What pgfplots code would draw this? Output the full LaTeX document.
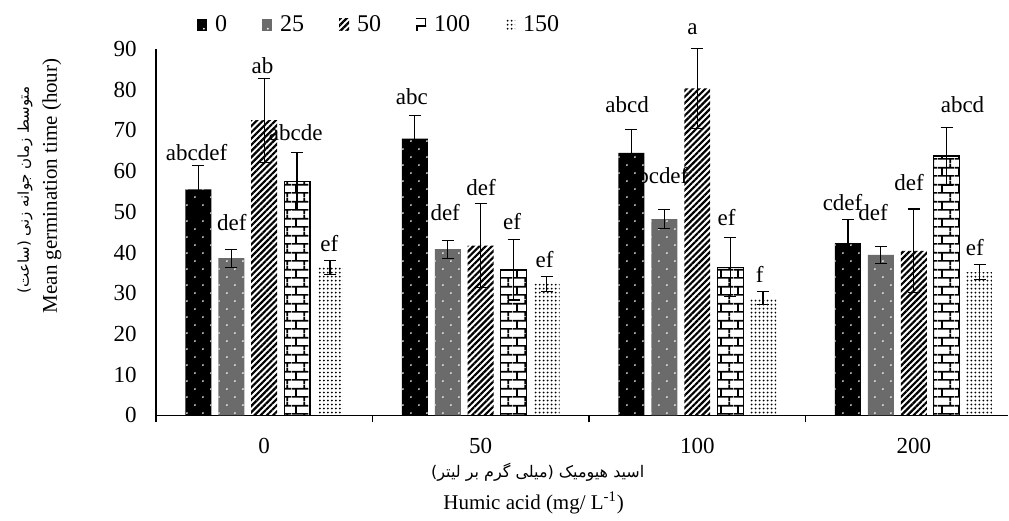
\documentclass[border=0pt]{standalone}
\usepackage{pgfplots}
\pgfplotsset{compat=1.18}
\usepackage{pgfplotstable}
\usetikzlibrary{patterns,patterns.meta}
\usepackage{fontspec}
\setmainfont{Liberation Serif}
\newfontfamily\arabicfont[Script=Arabic]{DejaVu Sans}
\TeXXeTstate=1

\pgfdeclarepattern{
  name=wdots, type=uncolored,
  bottom left={\pgfpoint{0pt}{0pt}},
  top right={\pgfpoint{8pt}{8pt}},
  tile size={\pgfpoint{8pt}{8pt}},
  code={
    \pgfpathcircle{\pgfpoint{2pt}{2pt}}{0.5pt}
    \pgfpathcircle{\pgfpoint{6pt}{6pt}}{0.5pt}
    \pgfusepath{fill}
  }
}
\pgfdeclarepattern{
  name=bricks, type=uncolored,
  bottom left={\pgfpoint{0pt}{0pt}},
  top right={\pgfpoint{8.6pt}{8.6pt}},
  tile size={\pgfpoint{8.6pt}{8.6pt}},
  code={
    \pgfsetlinewidth{0.9pt}
    \pgfpathmoveto{\pgfpoint{0pt}{2.15pt}}\pgfpathlineto{\pgfpoint{8.6pt}{2.15pt}}
    \pgfpathmoveto{\pgfpoint{0pt}{6.45pt}}\pgfpathlineto{\pgfpoint{8.6pt}{6.45pt}}
    \pgfpathmoveto{\pgfpoint{2.15pt}{2.15pt}}\pgfpathlineto{\pgfpoint{2.15pt}{6.45pt}}
    \pgfpathmoveto{\pgfpoint{6.45pt}{0pt}}\pgfpathlineto{\pgfpoint{6.45pt}{2.15pt}}
    \pgfpathmoveto{\pgfpoint{6.45pt}{6.45pt}}\pgfpathlineto{\pgfpoint{6.45pt}{8.6pt}}
    \pgfusepath{stroke}
  }
}

\pgfplotstableread{
x y e
0 55.5 5.8
1 68.0 5.7
2 64.5 5.8
3 42.3 5.8
}\tA
\pgfplotstableread{
x y e
0 38.6 2.2
1 40.8 2.2
2 48.2 2.3
3 39.4 2.1
}\tB
\pgfplotstableread{
x y e
0 72.5 10.3
1 41.7 10.3
2 80.3 9.9
3 40.4 10.3
}\tC
\pgfplotstableread{
x y e
0 57.5 7.0
1 35.7 7.4
2 36.4 7.3
3 63.7 7.1
}\tD
\pgfplotstableread{
x y e
0 36.3 1.7
1 32.3 1.8
2 28.8 1.6
3 35.2 1.8
}\tE

\newcommand\lab[3]{\node[font=\fontsize{11.5}{13}\selectfont, inner sep=0pt, anchor=center] at (axis cs:#1,#2) {#3};}

\begin{document}
\begin{tikzpicture}
\begin{axis}[
  set layers,
  scale only axis, width=426.5pt, height=183.25pt,
  xmin=-0.5, xmax=3.437, ymin=0, ymax=90,
  clip=false,
  axis x line*=bottom, axis y line*=left,
  axis line style={line width=0.6pt, black, -},
  xtick={0,1,2,3}, xticklabels={0,50,100,200},
  ytick={0,10,...,90},
  major tick length=0pt,
  extra x ticks={-0.5,0.5,1.5,2.5},
  extra x tick labels={},
  extra x tick style={major tick length=3.5pt, tick align=outside, tick style={line width=0.6pt, black}},
  tick label style={font=\fontsize{11.5}{13}\selectfont},
  /pgf/number format/assume math mode=true,
  xticklabel style={anchor=base, yshift=-19pt},
  yticklabel style={anchor=east, inner sep=0pt, xshift=-9.5pt},
  ybar, bar width=0.12,
  legend image code/.code={\draw[#1, draw=none] (0pt,-3pt) rectangle (5pt,3pt);},
  legend columns=5,
  legend style={at={(0.048,1.066)}, anchor=west, draw=none, fill=none, inner sep=0pt,
    font=\fontsize{12}{14}\selectfont,
    /tikz/every odd column/.append style={column sep=4pt},
    /tikz/every even column/.append style={column sep=17.5pt},
    nodes={inner sep=0pt}},
  error bars/y dir=both, error bars/y explicit,
  error bars/error bar style={draw=black, line width=0.6pt, solid},
  error bars/error mark options={rotate=90, mark size=3pt, line width=0.6pt, draw=black, solid},
]
\addplot[fill=black, draw=none, postaction={pattern=wdots, pattern color=white}, bar shift=-0.304]
  table[x=x,y=y,y error=e]{\tA};
\addplot[fill=black!58, draw=none, postaction={pattern=wdots, pattern color=white}, bar shift=-0.152]
  table[x=x,y=y,y error=e]{\tB};
\addplot[draw=none, pattern={Lines[angle=45, distance=2.2pt, line width=1.1pt]}, pattern color=black, bar shift=0]
  table[x=x,y=y,y error=e]{\tC};
\addplot[draw=black, line width=0.6pt, pattern=bricks, pattern color=black, bar shift=0.152]
  table[x=x,y=y,y error=e]{\tD};
\addplot[draw=none, pattern={Dots[distance=2pt, radius=0.5pt]}, pattern color=black, bar shift=0.304]
  table[x=x,y=y,y error=e]{\tE};
\legend{0,25,50,100,150}
\begin{pgfonlayer}{axis background}
\lab{-0.312}{64.5}{abcdef}
\lab{-0.149}{47.4}{def}
\lab{-0.008}{85.9}{ab}
\lab{0.146}{69.5}{abcde}
\lab{0.301}{42.2}{ef}
\lab{0.682}{78.3}{abc}
\lab{0.836}{49.9}{def}
\lab{1.002}{55.9}{def}
\lab{1.145}{47.7}{ef}
\lab{1.295}{38.2}{ef}
\lab{1.676}{76.4}{abcd}
\lab{1.841}{58.8}{bcdef}
\lab{1.978}{94.9}{a}
\lab{2.135}{48.5}{ef}
\lab{2.288}{34.5}{f}
\lab{2.671}{52.2}{cdef}
\lab{2.812}{49.9}{def}
\lab{2.978}{57.1}{def}
\lab{3.225}{76.4}{abcd}
\lab{3.282}{41.1}{ef}
\end{pgfonlayer}
\end{axis}
\node[rotate=90, font=\arabicfont\fontsize{7.5}{9}\selectfont] at (-65.5pt,112.75pt) {\beginR متوسط زمان جوانه زنی (ساعت)\endR};
\node[rotate=90, font=\fontsize{10.5}{12}\selectfont] at (-52pt,114.75pt) {Mean germination time (hour)};
\node[anchor=west, inner sep=0pt, font=\arabicfont\fontsize{8}{10}\selectfont] at (137.5pt,-28.5pt) {\beginR اسید هیومیک (میلی گرم بر لیتر)\endR};
\node[font=\fontsize{10.5}{12}\selectfont] at (189pt,-43.75pt) {Humic acid (mg/ L\textsuperscript{-1})};
\path (-78pt,-50.25pt) rectangle (426.5pt,207.75pt);
\end{tikzpicture}
\end{document}
